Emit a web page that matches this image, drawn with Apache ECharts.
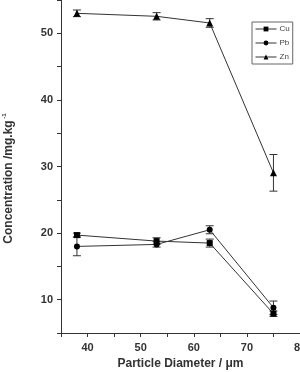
<!DOCTYPE html>
<html>
<head>
<meta charset="utf-8">
<script src="https://cdn.jsdelivr.net/npm/echarts@6/dist/echarts.min.js"></script>
<style>
  html, body { margin: 0; padding: 0; background: #fff; }
  #main { width: 300px; height: 372px; }
</style>
</head>
<body>
<div id="main"></div>
<script>
// particle diameter (um)
const diameters = [38, 53, 63, 75];

const cuValues = [19.7, 18.8, 18.5, 7.9];
const cuErrors = [0.3, 0.5, 0.6, 0.4];
const pbValues = [18.0, 18.3, 20.5, 8.8];
const pbErrors = [1.4, 0.4, 0.6, 1.0];
const znValues = [53.0, 52.55, 51.55, 29.05];
const znErrors = [0.5, 0.55, 0.65, 2.75];

const FONT = 'Liberation Sans, Arial, sans-serif';
const INK = '#333';

const pairs = (values) => values.map((v, i) => [diameters[i], v]);
const errorData = (values, errors) =>
  values.map((v, i) => [diameters[i], v - errors[i], v + errors[i]]);

function renderError(params, api) {
  const x = api.value(0);
  const lo = api.coord([x, api.value(1)]);
  const hi = api.coord([x, api.value(2)]);
  const w = 4;
  const style = { stroke: INK, lineWidth: 1 };
  return {
    type: 'group',
    children: [
      { type: 'line', shape: { x1: lo[0], y1: lo[1], x2: hi[0], y2: hi[1] }, style },
      { type: 'line', shape: { x1: hi[0] - w, y1: hi[1], x2: hi[0] + w, y2: hi[1] }, style },
      { type: 'line', shape: { x1: lo[0] - w, y1: lo[1], x2: lo[0] + w, y2: lo[1] }, style }
    ]
  };
}

const lineSeries = (name, values, symbol, size) => ({
  name,
  type: 'line',
  data: pairs(values),
  symbol,
  symbolSize: size,
  showAllSymbol: true,
  lineStyle: { color: INK, width: 1 },
  itemStyle: { color: '#000' },
  z: 3
});

const errorSeries = (values, errors) => ({
  type: 'custom',
  renderItem: renderError,
  data: errorData(values, errors),
  encode: { x: 0, y: [1, 2] },
  silent: true,
  z: 2
});

const tenOnly = (v) => (v % 10 === 0 ? String(v) : '');

const chart = echarts.init(document.getElementById('main'));
chart.setOption({
  animation: false,
  textStyle: { fontFamily: FONT },
  grid: { left: 61, right: 0, top: 0, bottom: 39, outerBoundsMode: 'none', containLabel: false },
  legend: {
    data: ['Cu', 'Pb', 'Zn'],
    orient: 'vertical',
    left: 252,
    top: 22,
    padding: [3, 3, 3, 3],
    itemWidth: 21,
    itemHeight: 6,
    itemGap: 6,
    borderColor: '#666',
    borderWidth: 1,
    lineStyle: { width: 1, color: INK },
    textStyle: { fontSize: 8, color: '#444', fontFamily: FONT, padding: [0, 0, 0, -2] }
  },
  xAxis: {
    type: 'value',
    min: 35,
    max: 80,
    interval: 5,
    name: 'Particle Diameter / \u03bcm',
    nameLocation: 'middle',
    nameGap: 25,
    nameTextStyle: { fontSize: 12, fontWeight: 'bold', color: INK, fontFamily: FONT },
    axisLine: { lineStyle: { color: INK, width: 1 } },
    axisTick: { length: 4, lineStyle: { color: INK } },
    axisLabel: { formatter: tenOnly, fontSize: 11, fontWeight: 'bold', color: INK, margin: 9, fontFamily: FONT },
    splitLine: { show: false }
  },
  yAxis: {
    type: 'value',
    min: 5,
    max: 55,
    interval: 5,
    name: '{a|Concentration /mg.kg}{b| -1}',
    nameLocation: 'middle',
    nameGap: 45,
    nameTextStyle: {
      color: INK,
      padding: [0, 24, 0, 0],
      rich: {
        a: { fontSize: 12, fontWeight: 'bold', color: INK, fontFamily: FONT, lineHeight: 15 },
        b: { fontSize: 6, fontWeight: 'bold', color: INK, fontFamily: FONT, lineHeight: 15, verticalAlign: 'top' }
      }
    },
    axisLine: { show: true, lineStyle: { color: INK, width: 1 } },
    axisTick: { show: true, length: 4, lineStyle: { color: INK } },
    axisLabel: { formatter: tenOnly, fontSize: 11, fontWeight: 'bold', color: INK, margin: 8, fontFamily: FONT },
    splitLine: { show: false }
  },
  series: [
    errorSeries(cuValues, cuErrors),
    errorSeries(pbValues, pbErrors),
    errorSeries(znValues, znErrors),
    lineSeries('Cu', cuValues, 'rect', 6),
    lineSeries('Pb', pbValues, 'circle', 6),
    lineSeries('Zn', znValues, 'triangle', 7)
  ]
});
</script>
</body>
</html>
